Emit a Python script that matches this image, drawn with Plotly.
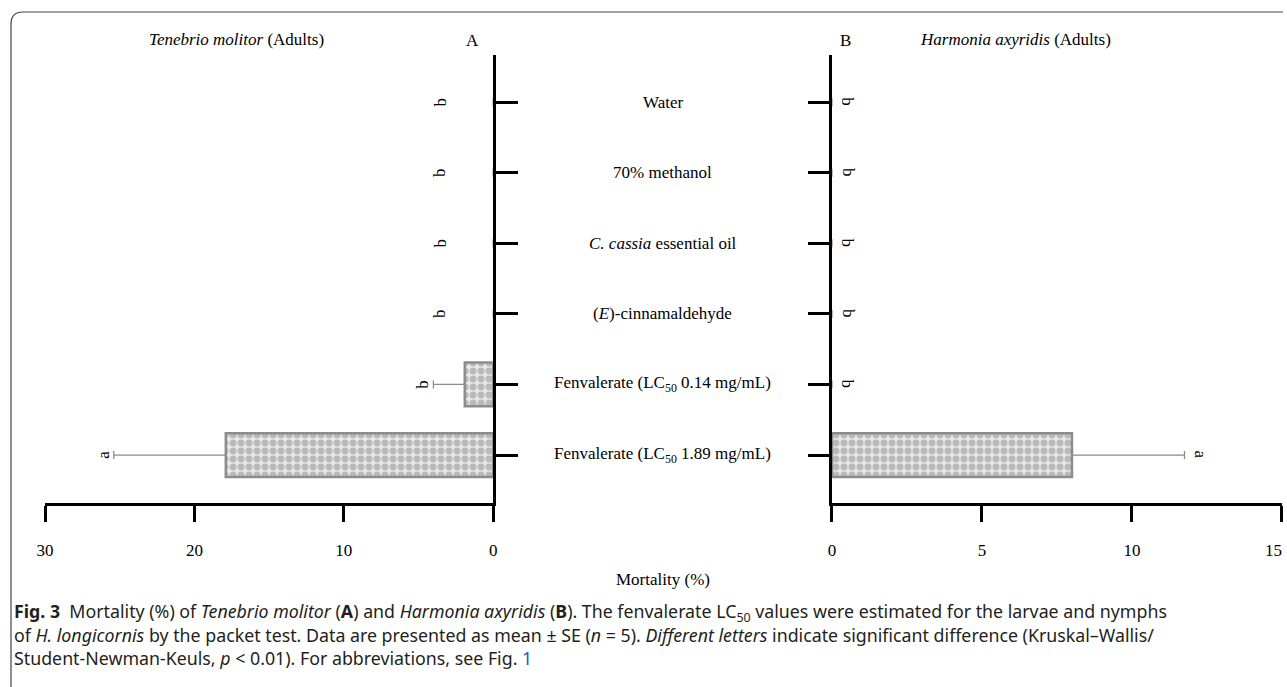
import plotly.graph_objects as go

W, H = 1287, 687

categories = [
    "Water",
    "70% methanol",
    "<i>C. cassia</i> essential oil",
    "(<i>E</i>)-cinnamaldehyde",
    "Fenvalerate (LC<sub>50</sub> 0.14 mg/mL)",
    "Fenvalerate (LC<sub>50</sub> 1.89 mg/mL)",
]
tenebrio_mean = [0, 0, 0, 0, 1.9, 17.9]
tenebrio_se = [0, 0, 0, 0, 2.1, 7.5]
tenebrio_letters = ["b", "b", "b", "b", "b", "a"]
harmonia_mean = [0, 0, 0, 0, 0, 8.0]
harmonia_se = [0, 0, 0, 0, 0, 3.75]
harmonia_letters = ["b", "b", "b", "b", "b", "a"]
ticks_a = [30, 20, 10, 0]
ticks_b = [0, 5, 10, 15]

SERIF = "Liberation Serif, Times New Roman, serif"
SANS = "Noto Sans, Roboto, Liberation Sans, sans-serif"

# the page draws the paper 8 px in from the left and 1271 px wide
X0, PW = 8.0, 1271.0

def px(x):
    return min(max((x - X0) / PW, 0.0), 1.0)

def py(y):
    return min(max(1 - y / H, 0.0), 1.0)

idx = list(range(len(categories)))

pattern = dict(shape=".", fillmode="overlay", bgcolor="#e8e8e8", fgcolor="#8c8c8c",
               size=8, solidity=0.6)

def bar(values, se, xa, ya):
    return go.Bar(
        x=values, y=idx, orientation="h", xaxis=xa, yaxis=ya,
        width=0.62,
        marker=dict(color="#e8e8e8", pattern=pattern,
                    line=dict(color="#8c8c8c", width=[2.5 if v > 0 else 0 for v in values])),
        error_x=dict(type="data", array=se, arrayminus=[0] * len(se), symmetric=False,
                     color="#8c8c8c", thickness=1.3, width=4),
        showlegend=False, hoverinfo="skip",
    )

fig = go.Figure()
fig.add_trace(bar(tenebrio_mean, tenebrio_se, "x", "y"))
fig.add_trace(bar(harmonia_mean, harmonia_se, "x2", "y2"))

yr = [5.68, -0.67]
line_common = dict(showgrid=False, zeroline=False, showline=True, linecolor="black",
                   linewidth=2.5, ticks="outside", tickcolor="black", tickwidth=2.5)
tickfont = dict(family=SERIF, size=17, color="black")

# last B label drawn as an annotation so it is not dropped at the page edge
ticktext_b = [str(t) if t != ticks_b[-1] else "" for t in ticks_b]

fig.update_layout(
    width=W, height=H, autosize=False,
    margin=dict(l=0, r=0, t=0, b=0),
    paper_bgcolor="white", plot_bgcolor="rgba(0,0,0,0)",
    xaxis=dict(domain=[px(44), px(491)], range=[30, 0], tickvals=ticks_a, ticklen=16,
               anchor="y", ticklabelstandoff=14, tickfont=tickfont, **line_common),
    yaxis=dict(domain=[py(503), py(55)], range=yr, side="right", anchor="x",
               tickvals=idx, ticklen=22, showticklabels=False, **line_common),
    xaxis2=dict(domain=[px(829), px(1278)], range=[0, 15], tickvals=ticks_b,
                ticktext=ticktext_b, ticklen=16,
                anchor="y2", ticklabelstandoff=14, tickfont=tickfont, **line_common),
    yaxis2=dict(domain=[py(503), py(55)], range=yr, side="left", anchor="x2",
                tickvals=idx, ticklen=21, showticklabels=False, **line_common),
)

sfont = dict(family=SERIF, size=17, color="black")
ann = []
for i, c in enumerate(categories):
    ann.append(dict(x=px(660), xref="paper", y=i, yref="y", text=c, showarrow=False,
                    xanchor="center", yanchor="middle", font=sfont))
for i, (m, s, l) in enumerate(zip(tenebrio_mean, tenebrio_se, tenebrio_letters)):
    shift = -53 if m == 0 else -11
    ann.append(dict(x=m + s, xref="x", y=i, yref="y", text=l, showarrow=False,
                    xanchor="center", yanchor="middle", textangle=-90, xshift=shift,
                    font=sfont))
for i, (m, s, l) in enumerate(zip(harmonia_mean, harmonia_se, harmonia_letters)):
    ann.append(dict(x=m + s, xref="x2", y=i, yref="y2", text=l, showarrow=False,
                    xanchor="center", yanchor="middle", textangle=90, xshift=16,
                    font=sfont))

ann.append(dict(x=ticks_b[-1], xref="x2", y=py(550), yref="paper", text=str(ticks_b[-1]),
                showarrow=False, xanchor="right", yanchor="middle", xshift=2, font=sfont))

def label(x, y, text):
    return dict(x=px(x), y=py(y), xref="paper", yref="paper", text=text, showarrow=False,
                xanchor="center", yanchor="middle", font=sfont)

ann += [
    label(235, 39, "<i>Tenebrio molitor</i> (Adults)"),
    label(470, 41, "A"),
    label(843, 41, "B"),
    label(1012, 39, "<i>Harmonia axyridis</i> (Adults)"),
    label(660, 579, "Mortality (%)"),
]

cap_font = dict(family=SANS, size=17.8, color="#231f20")
cap_lines = [
    "<b>Fig. 3</b>  Mortality (%) of <i>Tenebrio molitor</i> (<b>A</b>) and <i>Harmonia axyridis</i> (<b>B</b>). "
    "The fenvalerate LC<sub>50</sub> values were estimated for the larvae and nymphs",
    "of <i>H. longicornis</i> by the packet test. Data are presented as mean ± SE (<i>n</i> = 5). "
    "<i>Different letters</i> indicate significant difference (Kruskal–Wallis/",
    "Student-Newman-Keuls, <i>p</i> < 0.01). For abbreviations, see Fig. <span style='color:#1a5fb4'>1</span>",
]
for k, line in enumerate(cap_lines):
    ann.append(dict(x=px(11), y=py(612 + 23 * k), xref="paper", yref="paper", text=line,
                    showarrow=False, xanchor="left", yanchor="middle", font=cap_font))

fig.update_layout(annotations=ann)

r = 12
path = (f"M {px(1287)},{py(12)} L {px(10 + r)},{py(12)} "
        f"Q {px(10)},{py(12)} {px(10)},{py(12 + r)} L {px(10)},{py(687)}")
fig.add_shape(type="path", xref="paper", yref="paper", path=path,
              line=dict(color="#444444", width=1.2))

fig.write_html("out.html")
